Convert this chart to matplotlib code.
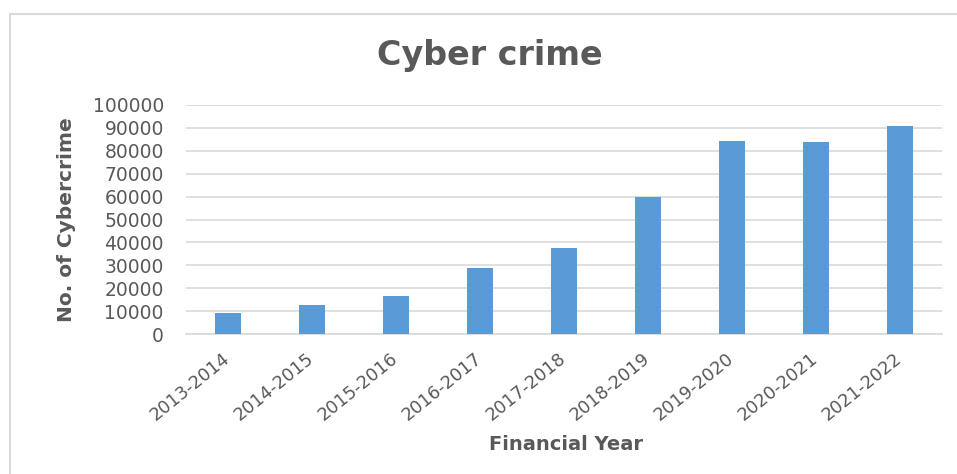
#!/usr/bin/env python3
"""Cyber crime bar chart"""
import matplotlib
matplotlib.use('Agg')
import matplotlib.pyplot as plt
import matplotlib.patches as mpatches
import numpy as np

plt.rcParams['font.family'] = ['DejaVu Sans']

# data
years = ['2013-2014', '2014-2015', '2015-2016', '2016-2017', '2017-2018',
         '2018-2019', '2019-2020', '2020-2021', '2021-2022']
cases = [9100, 12700, 16500, 28900, 37600, 59800, 84100, 83700, 91000]
y_ticks = [0, 10000, 20000, 30000, 40000, 50000, 60000, 70000, 80000, 90000, 100000]

TEXT = '#595959'
GRID = '#d9d9d9'
BAR = '#5b9bd5'

fig = plt.figure(figsize=(9.57, 4.74), dpi=100)
ax = fig.add_axes([186 / 957, 1 - 334 / 474, (942 - 186) / 957, (334 - 105) / 474])

x = np.arange(len(years))
ax.bar(x, cases, width=0.31, color=BAR, zorder=3)

ax.set_xlim(-0.5, len(years) - 0.5)
ax.set_ylim(0, 100000)
ax.set_yticks(y_ticks)
ax.set_yticklabels([str(v) for v in y_ticks], fontsize=13.5, color=TEXT)
ax.set_xticks(x)
ax.set_xticklabels(years, rotation=39, ha='right', va='center',
                   rotation_mode='anchor', fontsize=12.8, color=TEXT)
ax.tick_params(axis='both', length=0)
ax.tick_params(axis='x', pad=16)
ax.tick_params(axis='y', pad=16)
ax.grid(axis='y', color=GRID, linewidth=1.2, zorder=0)
for s in ['top', 'right', 'left']:
    ax.spines[s].set_visible(False)
ax.spines['bottom'].set_color(GRID)
ax.spines['bottom'].set_linewidth(1.2)

# titles
fig.text(490 / 957, 1 - 55 / 474, 'Cyber crime', ha='center', va='center',
         fontsize=24, fontweight='bold', color=TEXT)
fig.text(566 / 957, 1 - 445 / 474, 'Financial Year', ha='center', va='center',
         fontsize=14, fontweight='bold', color=TEXT)
fig.text(66 / 957, 1 - 220 / 474, 'No. of Cybercrime', ha='center', va='center',
         rotation=90, fontsize=14.5, fontweight='bold', color=TEXT)

# chart border
fig.patches.append(mpatches.Rectangle((10 / 957, -0.1), 1.1, 1 - 14 / 474 + 0.1,
                                      transform=fig.transFigure, fill=False,
                                      edgecolor=GRID, linewidth=1.5))

plt.savefig('out.png', dpi=100, facecolor='white')
plt.close()
